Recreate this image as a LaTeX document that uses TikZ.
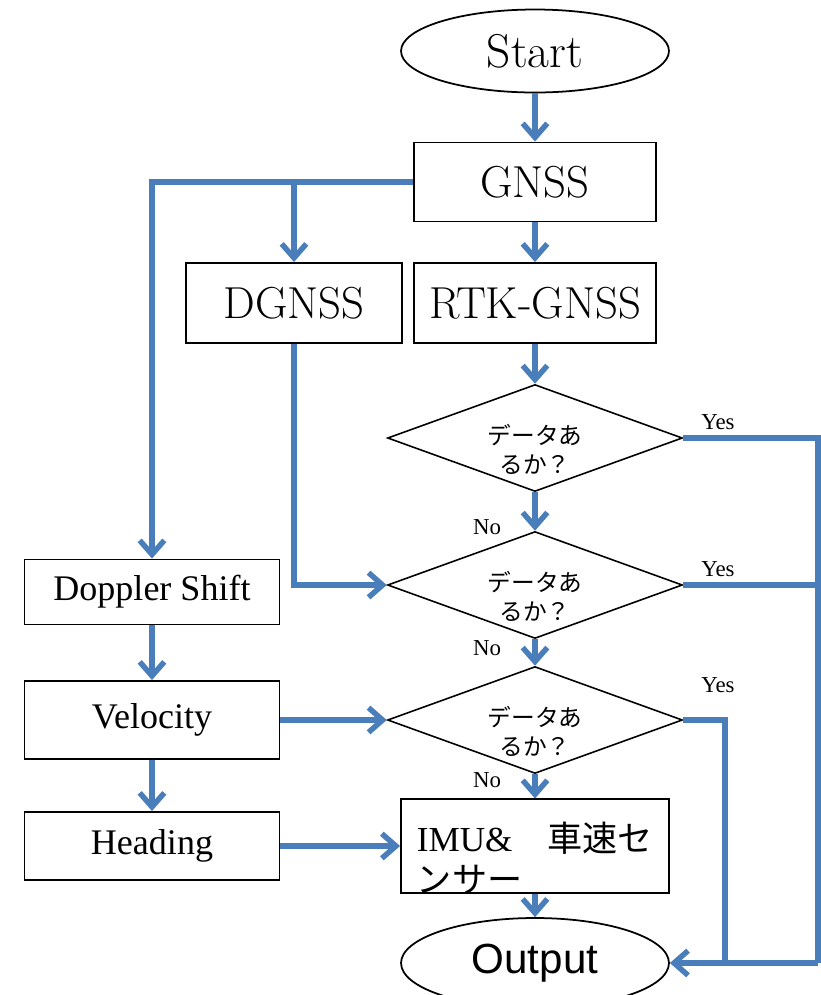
\documentclass[tikz,border=0pt]{standalone}
\usepackage{fontspec}
\newfontfamily\tnr{Liberation Serif}
\newfontfamily\arial{Liberation Sans}
\newfontfamily\jp{Noto Sans CJK JP}
\usetikzlibrary{shapes.geometric,arrows.meta,positioning}
\definecolor{flowblue}{HTML}{4A7EBB}

\begin{document}
\begin{tikzpicture}[
    x=0.02cm, y=-0.02cm,
    box/.style={rectangle, draw=black, line width=1.1pt, inner sep=0pt},
    term/.style={ellipse, draw=black, line width=1pt, inner sep=0pt},
    decide/.style={diamond, aspect=2.8, draw=black, line width=0.9pt, inner sep=0pt,
        minimum width=5.9cm, minimum height=2.14cm, align=center,
        text height=40pt, text depth=0pt,
        font=\jp\fontsize{13.5}{16.5}\selectfont},
    line/.style={flowblue, line width=3.1pt},
    flow/.style={line, -{Straight Barb[length=8pt,width=14pt]}},
    yn/.style={font=\tnr\fontsize{13}{15}\selectfont, inner sep=0pt},
    big/.style={font=\fontsize{25.5}{30}\selectfont},
    side/.style={box, minimum width=5.1cm, font=\tnr\fontsize{20.5}{24}\selectfont},
]
\useasboundingbox (0,0) rectangle (821,995);
\clip (0,0) rectangle (821,995);

% main column
\node[term, font=\fontsize{27}{32}\selectfont, minimum width=5.36cm, minimum height=1.66cm] (start) at (535,51) {Start};
\node[box, big, minimum width=4.84cm, minimum height=1.58cm] (gnss) at (535,182) {GNSS};
\node[box, big, minimum width=4.32cm, minimum height=1.6cm] (dgnss) at (294,303) {DGNSS};
\node[box, big, minimum width=4.84cm, minimum height=1.6cm] (rtk) at (535,303) {RTK-GNSS};

% checks
\node[decide] (d1) at (535,438) {データあ\\るか？};
\node[decide] (d2) at (535,585) {データあ\\るか？};
\node[decide] (d3) at (535,720) {データあ\\るか？};

\node[box, minimum width=5.36cm, minimum height=1.86cm, align=left,
      text height=53pt, text depth=0pt,
      font=\tnr\fontsize{20}{23.5}\selectfont] (imu) at (535,846)
      {IMU\&{\jp 　車速セ}\\{\jp ンサー}};
\node[term, minimum width=5.36cm, minimum height=1.8cm,
      font=\arial\fontsize{24}{28}\selectfont] (output) at (535,963)
      {\raisebox{-4pt}{Output}};

% left column
\node[side, minimum height=1.3cm] (doppler) at (152,592) {Doppler Shift};
\node[side, minimum height=1.56cm] (velocity) at (152,720) {Velocity};
\node[side, minimum height=1.36cm] (heading) at (152,846) {Heading};

% Yes / No
\node[yn] (yes1) at (718,422) {Yes};
\node[yn] (yes2) at (718,569) {Yes};
\node[yn] (yes3) at (718,685) {Yes};
\node[yn] (no1) at (487,527) {No};
\node[yn] (no2) at (487,648) {No};
\node[yn] (no3) at (487,780) {No};

\coordinate (rbus) at (818,963);
\coordinate (mbus) at (725,963);

% connectors
\draw[flow] (start) -- (gnss);
\draw[flow] (gnss) -- (rtk);
\draw[flow] (gnss.west) -- (gnss.west -| doppler.north) -- (doppler.north);
\draw[flow] (gnss.west -| dgnss.north) -- (dgnss.north);
\draw[flow] (rtk) -- (d1);
\draw[flow] (d1) -- (d2);
\draw[flow] (d2) -- (d3);
\draw[flow] (d3) -- (imu);
\draw[flow] (imu) -- (output);
\draw[flow] (dgnss.south) |- (d2.west);
\draw[flow] (doppler) -- (velocity);
\draw[flow] (velocity) -- (heading);
\draw[flow] (velocity.east) -- (d3.west);
\draw[flow] (heading) -- (imu);

\draw[line] (d1.east) -- (d1.east -| rbus) -- (rbus);
\draw[line] (d2.east) -- (d2.east -| rbus);
\draw[line] (d3.east) -- (d3.east -| mbus) -- (mbus);
\draw[flow] (rbus) -- (output.east);

\end{tikzpicture}
\end{document}
